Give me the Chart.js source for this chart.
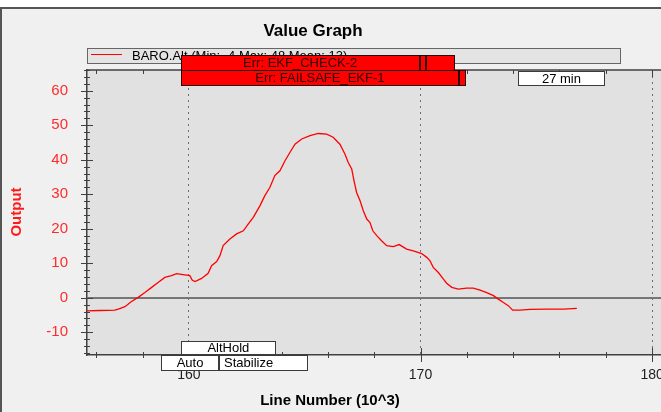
<!DOCTYPE html>
<html>
<head>
<meta charset="utf-8">
<title>Value Graph</title>
<script src="https://cdn.jsdelivr.net/npm/chart.js@4.4.1/dist/chart.umd.min.js"></script>
<style>
    html, body { margin: 0; padding: 0; background: #fff; overflow: hidden; }
    #wrap { position: relative; width: 661px; height: 412px; overflow: hidden; }
    #graph { position: absolute; left: 0; top: 0; }
</style>
</head>
<body>
<div id="wrap"><canvas id="graph" width="720" height="412"></canvas></div>
<script>
// BARO.Alt trace: log line number (x1000) and altitude
const lineNo = [
    155.58, 156.16, 156.80, 156.95, 157.24, 157.52, 157.81, 158.10, 158.39, 158.67, 158.96, 159.25, 159.47,
    159.75, 160.04, 160.14, 160.26, 160.55, 160.83, 160.98, 161.20, 161.34, 161.48, 161.77,
    162.06, 162.35, 162.56, 162.78, 163.07, 163.28, 163.50, 163.71, 163.93, 164.15,
    164.36, 164.58, 164.87, 165.23, 165.59, 165.95, 166.23, 166.52, 166.74, 166.88,
    167.03, 167.13, 167.24, 167.39, 167.53, 167.68, 167.82, 167.94, 168.11, 168.32,
    168.54, 168.83, 169.08, 169.40, 169.69, 170.05, 170.27, 170.41, 170.55, 170.77,
    170.99, 171.13, 171.35, 171.63, 171.99, 172.28, 172.57, 172.86, 173.15, 173.36,
    173.58, 173.79, 173.98, 174.30, 174.73, 175.45, 176.17, 176.75
];
const baroAlt = [
    -3.8, -3.7, -3.6, -3.3, -2.6, -1.1, 0.1, 1.5, 3.0, 4.4, 5.9, 6.4, 7.0,
    6.7, 6.4, 5.1, 4.7, 5.6, 7.1, 9.3, 10.5, 12.2, 15.1, 17.0,
    18.5, 19.4, 21.3, 23.3, 26.7, 29.6, 32.0, 35.4, 36.8, 39.7,
    42.1, 44.5, 46.0, 47.0, 47.6, 47.4, 46.5, 44.5, 41.6, 39.2,
    37.3, 33.9, 30.5, 28.1, 25.2, 22.8, 21.8, 19.4, 18.0, 16.5,
    15.1, 14.8, 15.4, 14.1, 13.6, 12.8, 11.7, 10.7, 8.8, 7.3,
    5.4, 4.2, 3.0, 2.5, 2.8, 2.8, 2.2, 1.5, 0.6, -0.4,
    -1.4, -2.3, -3.6, -3.6, -3.4, -3.3, -3.3, -3.1
];

const xTickLabels = [160, 170, 180];
const yTickLabels = [-10, 0, 10, 20, 30, 40, 50, 60];

// error events: each box runs from one event to the next, last one to errEnds
const errLabels = ['Err: EKF_CHECK-2', 'Err: FAILSAFE_EKF-1'];
const errTimes = [[159.65, 169.96, 170.24], [159.65, 171.66]];
const errEnds = [171.49, 171.97];

// flight modes
const modeNames = ['AltHold', 'Auto', 'Stabilize'];
const modeStart = [159.65, 158.8, 161.3];
const modeEnd = [163.76, 161.3, 165.16];

// elapsed time marker
const timeLabels = ['27 min'];
const timeStart = [174.2];
const timeEnd = [177.97];

const FONT = '"Liberation Sans", Arial, sans-serif';

// box rows (px)
const errRowTop = [55, 70];
const modeRowTop = { AltHold: 341, Auto: 355, Stabilize: 355 };
const modeRowH = { AltHold: 14, Auto: 16, Stabilize: 16 };
const modeTextAlign = { Stabilize: 'left' };

// legend stats, mean weighted over line number
const altMin = Math.min(...baroAlt);
const altMax = Math.max(...baroAlt);
let area = 0;
for (let i = 1; i < lineNo.length; i++) {
    area += (lineNo[i] - lineNo[i - 1]) * (baroAlt[i] + baroAlt[i - 1]) / 2;
}
const altMean = area / (lineNo[lineNo.length - 1] - lineNo[0]);
const legendText = `BARO.Alt (Min: ${Math.round(altMin)} Max: ${Math.round(altMax)} Mean: ${Math.round(altMean)})`;

const px = v => Math.round(v) + 0.5;

const drawBox = (ctx, x1, x2, top, h, fill, stroke) => {
    x1 = Math.round(x1); x2 = Math.round(x2);
    ctx.fillStyle = fill;
    ctx.fillRect(x1, top, x2 - x1, h);
    ctx.strokeStyle = stroke;
    ctx.lineWidth = 1;
    ctx.strokeRect(x1 + 0.5, top + 0.5, x2 - x1 - 1, h - 1);
};

const boxText = (ctx, text, x1, x2, top, h, color, align) => {
    ctx.fillStyle = color;
    ctx.font = `13px ${FONT}`;
    ctx.textBaseline = 'middle';
    if (align === 'left') {
        ctx.textAlign = 'left';
        ctx.fillText(text, x1 + 5, top + h / 2 + 0.5);
    } else {
        ctx.textAlign = 'center';
        ctx.fillText(text, (x1 + x2) / 2, top + h / 2 + 0.5);
    }
};

const graphFrame = {
    id: 'graphFrame',
    beforeDraw(chart) {
        const { ctx, width, height, chartArea: a } = chart;
        ctx.save();
        ctx.fillStyle = '#ffffff';
        ctx.fillRect(0, 0, width, height);
        ctx.fillStyle = '#f0f0f0';
        ctx.fillRect(0, 8, width, height - 8);
        ctx.strokeStyle = '#555555';
        ctx.lineWidth = 2;
        ctx.beginPath();
        ctx.moveTo(0, 8); ctx.lineTo(width, 8);
        ctx.moveTo(1, 8); ctx.lineTo(1, height);
        ctx.stroke();
        ctx.fillStyle = '#e1e1e1';
        ctx.fillRect(a.left, a.top, a.right - a.left, a.bottom - a.top);
        ctx.restore();
    },
    afterDraw(chart) {
        const { ctx, chartArea: a } = chart;
        const xs = chart.scales.x;
        const ys = chart.scales.y;
        ctx.save();

        // top border and the tick marks across the axes
        ctx.strokeStyle = '#404040';
        ctx.lineWidth = 1.5;
        ctx.beginPath();
        ctx.moveTo(a.left, a.top); ctx.lineTo(a.right, a.top);
        ctx.stroke();
        ctx.lineWidth = 1;
        ctx.beginPath();
        xs.ticks.forEach(t => {
            const x = px(xs.getPixelForValue(t.value));
            const major = xTickLabels.includes(Math.round(t.value));
            const h = major ? 7 : 3;
            ctx.moveTo(x, a.bottom - h); ctx.lineTo(x, a.bottom + h);
            ctx.moveTo(x, a.top); ctx.lineTo(x, a.top + (major ? 7 : 4));
        });
        ys.ticks.forEach(t => {
            const y = px(ys.getPixelForValue(t.value));
            const w = yTickLabels.includes(Math.round(t.value)) ? 6 : 3;
            ctx.moveTo(a.left - w, y); ctx.lineTo(a.left + w, y);
        });
        ctx.stroke();

        // chart title and axis titles
        ctx.fillStyle = '#000';
        ctx.textAlign = 'center';
        ctx.textBaseline = 'alphabetic';
        ctx.font = `bold 17px ${FONT}`;
        ctx.fillText('Value Graph', 313, 36);
        ctx.font = `bold 15px ${FONT}`;
        ctx.fillText('Line Number (10^3)', 330, 405);
        ctx.save();
        ctx.translate(17, 212);
        ctx.rotate(-Math.PI / 2);
        ctx.fillStyle = '#ff1a1a';
        ctx.textBaseline = 'middle';
        ctx.fillText('Output', 0, 0);
        ctx.restore();

        // legend
        drawBox(ctx, 87, 621, 48, 16, '#e4e4e4', '#666666');
        ctx.strokeStyle = chart.data.datasets[0].borderColor;
        ctx.lineWidth = 1;
        ctx.beginPath();
        ctx.moveTo(91, 54.5); ctx.lineTo(122, 54.5);
        ctx.stroke();
        ctx.fillStyle = '#000';
        ctx.font = `13px ${FONT}`;
        ctx.textAlign = 'left';
        ctx.textBaseline = 'alphabetic';
        ctx.fillText(legendText, 132, 60);

        // error boxes
        errLabels.forEach((label, i) => {
            const times = errTimes[i];
            const top = errRowTop[i];
            times.forEach((t, j) => {
                const next = j + 1 < times.length ? times[j + 1] : errEnds[i];
                drawBox(ctx, xs.getPixelForValue(t), xs.getPixelForValue(next), top, 16, '#ff0000', '#2a0505');
            });
            const end = times.length > 1 ? times[1] : errEnds[i];
            boxText(ctx, label, xs.getPixelForValue(times[0]), xs.getPixelForValue(end), top, 16, '#2a0000');
        });

        // elapsed time
        timeLabels.forEach((label, i) => {
            const x1 = xs.getPixelForValue(timeStart[i]);
            const x2 = xs.getPixelForValue(timeEnd[i]);
            drawBox(ctx, x1, x2, 71, 15, '#ffffff', '#3a3a3a');
            boxText(ctx, label, x1, x2, 71, 15, '#000');
        });

        // flight modes
        modeNames.forEach((name, i) => {
            const x1 = xs.getPixelForValue(modeStart[i]);
            const x2 = xs.getPixelForValue(modeEnd[i]);
            drawBox(ctx, x1, x2, modeRowTop[name], modeRowH[name], '#ffffff', '#3a3a3a');
            boxText(ctx, name, x1, x2, modeRowTop[name], modeRowH[name], '#000', modeTextAlign[name]);
        });

        ctx.restore();
    }
};

new Chart(document.getElementById('graph'), {
    type: 'line',
    data: {
        datasets: [{
            label: 'BARO.Alt',
            data: lineNo.map((x, i) => ({ x, y: baroAlt[i] })),
            borderColor: '#ff0000',
            borderWidth: 1.3,
            pointRadius: 0,
            tension: 0,
            fill: false
        }]
    },
    options: {
        responsive: false,
        animation: false,
        events: [],
        layout: { padding: { top: 70, right: 10, bottom: 0, left: 0 } },
        plugins: {
            legend: { display: false },
            title: { display: false },
            tooltip: { enabled: false }
        },
        scales: {
            x: {
                type: 'linear',
                min: 155.6,
                max: 182.5,
                afterFit: s => { s.height = 57; },
                grid: {
                    drawTicks: false,
                    lineWidth: 1,
                    color: c => (c.tick && xTickLabels.includes(Math.round(c.tick.value))) ? '#6e6e6e' : 'transparent'
                },
                border: { color: '#404040', width: 1.5, dash: [2, 4] },
                ticks: {
                    stepSize: 2,
                    includeBounds: false,
                    autoSkip: false,
                    maxRotation: 0,
                    padding: 12,
                    color: '#1e1e1e',
                    font: { family: FONT, size: 14 },
                    callback: v => xTickLabels.includes(Math.round(v)) ? String(Math.round(v)) : ''
                }
            },
            y: {
                min: -16.6,
                max: 66.0,
                afterFit: s => { s.width = 87; },
                grid: {
                    drawTicks: false,
                    lineWidth: 2,
                    color: c => (c.tick && Math.round(c.tick.value) === 0) ? '#767676' : 'transparent'
                },
                border: { color: '#404040', width: 1.5 },
                ticks: {
                    stepSize: 2,
                    includeBounds: false,
                    autoSkip: false,
                    padding: 19,
                    color: '#ff2b2b',
                    font: { family: FONT, size: 15 },
                    callback: v => yTickLabels.includes(Math.round(v)) ? String(Math.round(v)) : ''
                }
            }
        }
    },
    plugins: [graphFrame]
});
</script>
</body>
</html>
